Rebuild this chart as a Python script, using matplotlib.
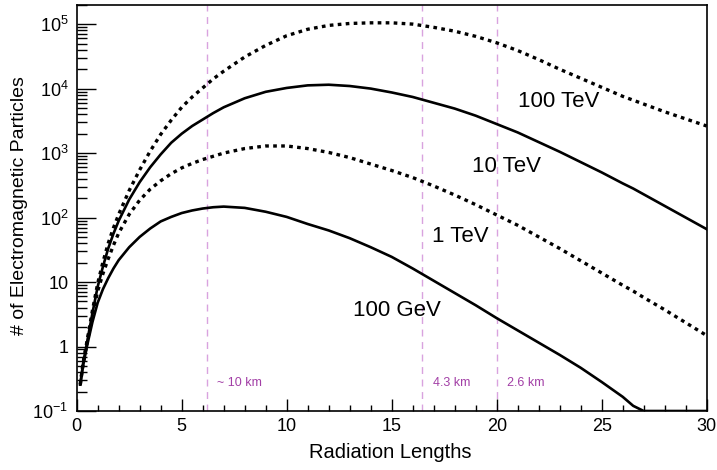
import numpy as np
import matplotlib
matplotlib.use("Agg")
import matplotlib.pyplot as plt
from matplotlib.ticker import FixedLocator, FuncFormatter, LogLocator, MultipleLocator

plt.rcParams['font.family'] = ['Liberation Sans', 'DejaVu Sans']
plt.rcParams['mathtext.fontset'] = 'custom'
plt.rcParams['mathtext.rm'] = 'Liberation Sans'
plt.rcParams['mathtext.it'] = 'Liberation Sans:italic'

# Radiation lengths (x) sampled along the curves
depth = [0.17, 0.3, 0.5, 0.75, 1, 1.25, 1.5, 1.75, 2, 2.5, 3, 3.5, 4, 4.5, 5, 5.5, 6, 6.5,
         7, 8, 9, 10, 11, 12, 13, 14, 15, 16, 17, 18, 19, 20, 21, 22, 23, 24, 25, 26,
         26.5, 27, 28, 29, 30]

# log10 of number of electromagnetic particles
log_n_100GeV = [-0.59, -0.30, 0.02, 0.38, 0.68, 0.89, 1.06, 1.21, 1.34, 1.54, 1.70, 1.83,
                1.94, 2.01, 2.07, 2.11, 2.14, 2.16, 2.17, 2.15, 2.09, 2.01, 1.90, 1.80,
                1.68, 1.54, 1.39, 1.21, 1.02, 0.83, 0.64, 0.44, 0.25, 0.06, -0.13, -0.33,
                -0.55, -0.78, -0.92, -1.0, -1.0, -1.0, -1.0]
log_n_1TeV = [-0.59, -0.28, 0.07, 0.48, 0.86, 1.13, 1.36, 1.57, 1.76, 2.05, 2.27, 2.44,
              2.57, 2.68, 2.77, 2.84, 2.90, 2.95, 3.00, 3.07, 3.11, 3.11, 3.07, 3.01,
              2.93, 2.83, 2.73, 2.62, 2.49, 2.35, 2.20, 2.04, 1.88, 1.70, 1.52, 1.33,
              1.14, 0.95, 0.86, 0.76, 0.57, 0.37, 0.17]
log_n_10TeV = [-0.59, -0.27, 0.08, 0.52, 0.93, 1.24, 1.52, 1.75, 1.95, 2.28, 2.55, 2.78,
               2.98, 3.16, 3.30, 3.42, 3.52, 3.62, 3.71, 3.85, 3.95, 4.01, 4.05, 4.06,
               4.04, 4.00, 3.94, 3.87, 3.78, 3.69, 3.58, 3.45, 3.32, 3.17, 3.02, 2.86,
               2.70, 2.53, 2.45, 2.36, 2.18, 2.00, 1.82]
log_n_100TeV = [-0.59, -0.26, 0.10, 0.56, 0.98, 1.31, 1.60, 1.84, 2.05, 2.42, 2.74, 3.03,
                3.29, 3.51, 3.71, 3.87, 4.01, 4.15, 4.27, 4.49, 4.67, 4.82, 4.92, 4.98,
                5.01, 5.02, 5.02, 5.00, 4.95, 4.89, 4.81, 4.71, 4.59, 4.45, 4.30, 4.16,
                4.02, 3.88, 3.82, 3.76, 3.64, 3.53, 3.42]

energy_labels = ["100 GeV", "1 TeV", "10 TeV", "100 TeV"]
label_x = [13.16, 16.90, 18.81, 21.01]
label_y = [2.99, 42.4, 500, 5250]

altitude_depths = [6.2, 16.45, 20.0]
altitude_labels = ["~ 10 km", "4.3 km", "2.6 km"]

fig = plt.figure(figsize=(7.17, 4.70), dpi=100)
ax = fig.add_axes([76.7/717, 1-411/470, (706.7-76.7)/717, (411-4.7)/470])

series = [log_n_100GeV, log_n_1TeV, log_n_10TeV, log_n_100TeV]
styles = ['solid', 'dotted', 'solid', 'dotted']
for vals, st in zip(series, styles):
    y = np.power(10.0, np.array(vals))
    if st == 'solid':
        ax.plot(depth, y, color='black', lw=1.9, solid_joinstyle='round')
    else:
        ax.plot(depth, y, color='black', lw=2.4, linestyle=(0, (1.1, 1.3)),
                dash_capstyle='butt')

ax.set_yscale('log')
ax.set_xlim(0, 30)
ax.set_ylim(0.1, 2e5)

for xd, lab in zip(altitude_depths, altitude_labels):
    ax.axvline(xd, color='#d9a3df', lw=1.0, linestyle=(0, (5, 4)), zorder=0)
    ax.text(xd + 0.5, 0.27, lab, color='#a23fa6', fontsize=9, ha='left', va='center')

for lab, lx, ly in zip(energy_labels, label_x, label_y):
    ax.text(lx, ly, lab, fontsize=16, ha='left', va='baseline')

def yfmt(v, pos):
    e = int(round(np.log10(v)))
    if e == 0:
        return "1"
    if e == 1:
        return "10"
    return r"$10^{%d}$" % e

ax.yaxis.set_major_locator(FixedLocator([0.1, 1, 10, 100, 1e3, 1e4, 1e5]))
ax.yaxis.set_major_formatter(FuncFormatter(yfmt))
ax.yaxis.set_minor_locator(LogLocator(base=10, subs=np.arange(2, 10), numticks=20))
ax.yaxis.set_minor_formatter(FuncFormatter(lambda v, p: ""))
ax.xaxis.set_major_locator(MultipleLocator(5))
ax.xaxis.set_minor_locator(MultipleLocator(1))

ax.tick_params(axis='y', which='major', direction='in', length=13.7, width=1.0,
               labelsize=13, pad=6, right=False, left=True)
ax.tick_params(axis='y', which='minor', direction='in', length=7.0, width=1.0,
               right=False, left=True)
ax.tick_params(axis='x', which='major', direction='in', length=8.8, width=1.0,
               labelsize=13, pad=5, top=False)
ax.tick_params(axis='x', which='minor', direction='in', length=4.2, width=1.0, top=False)

for sp in ax.spines.values():
    sp.set_linewidth(1.2)

fig.text(390/717, 1-453/470, "Radiation Lengths", fontsize=14.5, ha='center', va='center')
fig.text(20/717, 1-206/470, "# of Electromagnetic Particles", fontsize=14, ha='center',
         va='center', rotation=90)

fig.savefig("out.png", dpi=100)
